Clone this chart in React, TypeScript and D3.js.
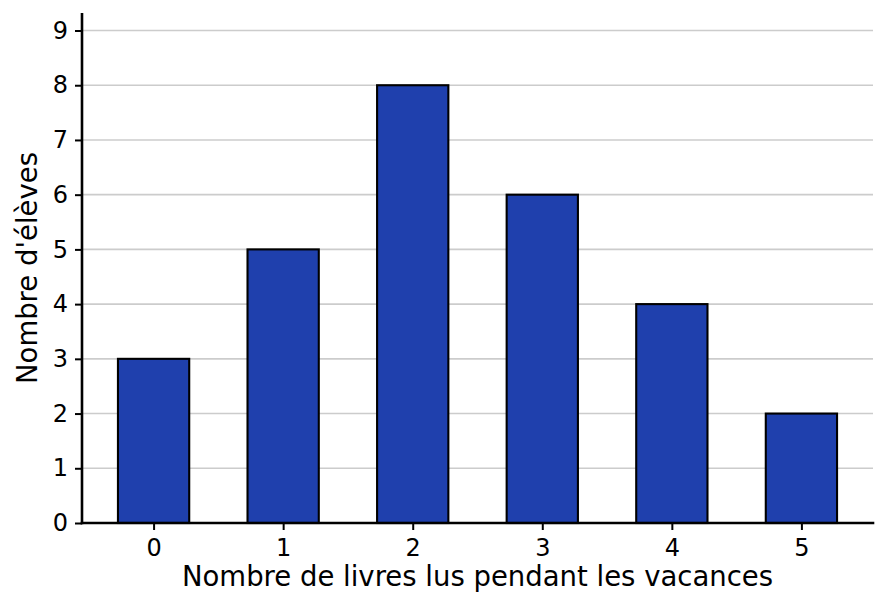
import React, { useEffect, useRef } from 'react';
import * as d3 from 'd3';

const categories = ['0', '1', '2', '3', '4', '5'];
const counts = [3, 5, 8, 6, 4, 2];
const yTicks = [0, 1, 2, 3, 4, 5, 6, 7, 8, 9];
const xTitle = 'Nombre de livres lus pendant les vacances';
const yTitle = "Nombre d'élèves";

const App: React.FC = () => {
  const chartRef = useRef<SVGSVGElement | null>(null);

  useEffect(() => {
    const W = 887;
    const H = 613;
    const margin = { top: 13, right: 14, bottom: 90, left: 82 };
    const width = W - margin.left - margin.right;
    const height = H - margin.top - margin.bottom;
    const font = 'DejaVu Sans, sans-serif';

    d3.select(chartRef.current).selectAll('*').remove();

    const svg = d3.select(chartRef.current)
      .attr('width', W)
      .attr('height', H)
      .append('g')
      .attr('transform', `translate(${margin.left},${margin.top})`);

    // bar width 0.55, matplotlib-like 5% margins
    const barW = 0.55;
    const x = d3.scaleLinear()
      .domain([-barW / 2 - 0.2775, categories.length - 1 + barW / 2 + 0.2775])
      .range([0, width]);
    const y = d3.scaleLinear().domain([0, 9.32]).range([height, 0]);

    // Grid
    svg.append('g')
      .selectAll('line')
      .data(yTicks.filter((t) => t > 0))
      .enter()
      .append('line')
      .attr('x1', 0)
      .attr('x2', width)
      .attr('y1', (d) => y(d))
      .attr('y2', (d) => y(d))
      .attr('stroke', '#cccccc')
      .attr('stroke-width', 1.6);

    // Bars
    svg.selectAll('.bar')
      .data(counts)
      .enter()
      .append('rect')
      .attr('class', 'bar')
      .attr('x', (_d, i) => x(i - barW / 2))
      .attr('y', (d) => y(d))
      .attr('width', x(barW) - x(0))
      .attr('height', (d) => height - y(d))
      .attr('fill', '#1f40ad')
      .attr('stroke', '#000')
      .attr('stroke-width', 2.1);

    // Axes
    const xAxis = d3.axisBottom(x)
      .tickValues(categories.map((_c, i) => i))
      .tickFormat((_d, i) => categories[i])
      .tickSize(7)
      .tickPadding(9);
    const yAxis = d3.axisLeft(y)
      .tickValues(yTicks)
      .tickFormat(d3.format('d'))
      .tickSize(7)
      .tickPadding(7);

    const gx = svg.append('g')
      .attr('transform', `translate(0,${height})`)
      .call(xAxis);
    const gy = svg.append('g').call(yAxis);

    [gx, gy].forEach((g) => {
      g.select('.domain').remove();
      g.selectAll('.tick line').attr('stroke', '#000').attr('stroke-width', 2);
      g.selectAll('.tick text')
        .attr('fill', '#000')
        .style('font-family', font)
        .style('font-size', '24px');
    });

    // Spines
    svg.append('line')
      .attr('x1', 0).attr('x2', 0)
      .attr('y1', 0).attr('y2', height + 1.3)
      .attr('stroke', '#000').attr('stroke-width', 2.6);
    svg.append('line')
      .attr('x1', -1.3).attr('x2', width + 1.3)
      .attr('y1', height).attr('y2', height)
      .attr('stroke', '#000').attr('stroke-width', 2.6);

    // Titles
    svg.append('text')
      .attr('x', width / 2)
      .attr('y', height + 63)
      .attr('text-anchor', 'middle')
      .style('font-family', font)
      .style('font-size', '27.5px')
      .text(xTitle);

    svg.append('text')
      .attr('transform', `translate(${-margin.left + 37},${height / 2}) rotate(-90)`)
      .attr('text-anchor', 'middle')
      .style('font-family', font)
      .style('font-size', '27.5px')
      .text(yTitle);
  }, []);

  return (
    <div style={{ position: 'absolute', left: 0, top: 0 }}>
      <svg ref={chartRef} style={{ display: 'block', background: '#fff' }}></svg>
    </div>
  );
};

export default App;
